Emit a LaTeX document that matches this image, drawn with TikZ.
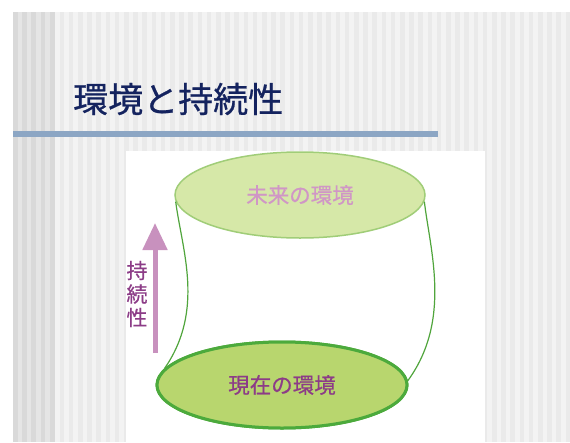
\documentclass[tikz,border=0pt]{standalone}
\usepackage{fontspec}
\setmainfont{Noto Sans CJK JP}
\newfontfamily\boldishcjk[FakeBold=0.7]{Noto Sans CJK JP}
\usetikzlibrary{shapes.geometric,arrows.meta}
\definecolor{titlec}{RGB}{20,35,95}
\definecolor{linec}{RGB}{140,166,196}
\definecolor{topfill}{RGB}{214,232,168}
\definecolor{topdraw}{RGB}{160,205,120}
\definecolor{botfill}{RGB}{184,214,110}
\definecolor{botdraw}{RGB}{76,170,60}
\definecolor{sidec}{RGB}{80,165,60}
\definecolor{toptext}{RGB}{208,150,198}
\definecolor{purp}{RGB}{140,60,135}
\definecolor{arrowc}{RGB}{200,145,190}
\definecolor{bgA}{RGB}{243,243,243}
\definecolor{bgB}{RGB}{234,234,234}
\definecolor{bgC}{RGB}{229,229,229}
\definecolor{bgD}{RGB}{217,217,217}
\tikzset{
  envell/.style={ellipse, inner sep=0pt, minimum width=250pt, minimum height=86pt, font=\boldishcjk\fontsize{21.5pt}{24pt}\selectfont},
  sideline/.style={draw=sidec, line width=1.2pt},
}
\begin{document}
\begin{tikzpicture}[x=1pt,y=-1pt]
\useasboundingbox (0,0) rectangle (570,442);
\fill[white] (0,0) rectangle (570,442);
% striped slide background
\fill[bgA] (13,12) rectangle (570,442);
\foreach \i in {0,...,56} {
  \fill[bgB] ({59.6+\i*9.2},12) rectangle ++(4.6,430);
}
\fill[bgC] (13,12) rectangle (55,442);
\foreach \i in {0,...,4} {
  \fill[bgD] ({13+\i*9.2},12) rectangle ++(4.8,430);
}
% title
\node[anchor=west, inner sep=0pt, text=titlec, font=\boldishcjk\fontsize{35pt}{40pt}\selectfont] (title) at (73,99) {環境と持続性};
\fill[linec] (13,131) rectangle (438,137);
% picture panel
\fill[white] (126,151) rectangle (485,442);
% ellipses
\node[envell, fill=topfill, draw=topdraw, line width=1.5pt, text=toptext] (top) at (300,195) {未来の環境};
\node[envell, fill=botfill, draw=botdraw, line width=3pt, text=purp] (bot) at (282,385) {現在の環境};
% sides
\draw[sideline] (top.183) .. controls (182,250) and (205,310) .. (bot.172);
\draw[sideline] (top.357) .. controls (430,250) and (452,320) .. (bot.2);
\node[envell, fill=botfill, draw=botdraw, line width=3pt, text=purp] at (282,385) {現在の環境};
% sustainability arrow
\coordinate (arrS) at (155,353);
\coordinate (arrE) at (155,223);
\draw[arrowc, line width=5pt, -{Triangle[width=24pt,length=27pt]}] (arrS) -- (arrE);
\node[text=purp, align=center, inner sep=0pt, font=\boldishcjk\fontsize{21pt}{23.5pt}\selectfont] (sus) at (137,294) {持\\続\\性};
\end{tikzpicture}
\end{document}
